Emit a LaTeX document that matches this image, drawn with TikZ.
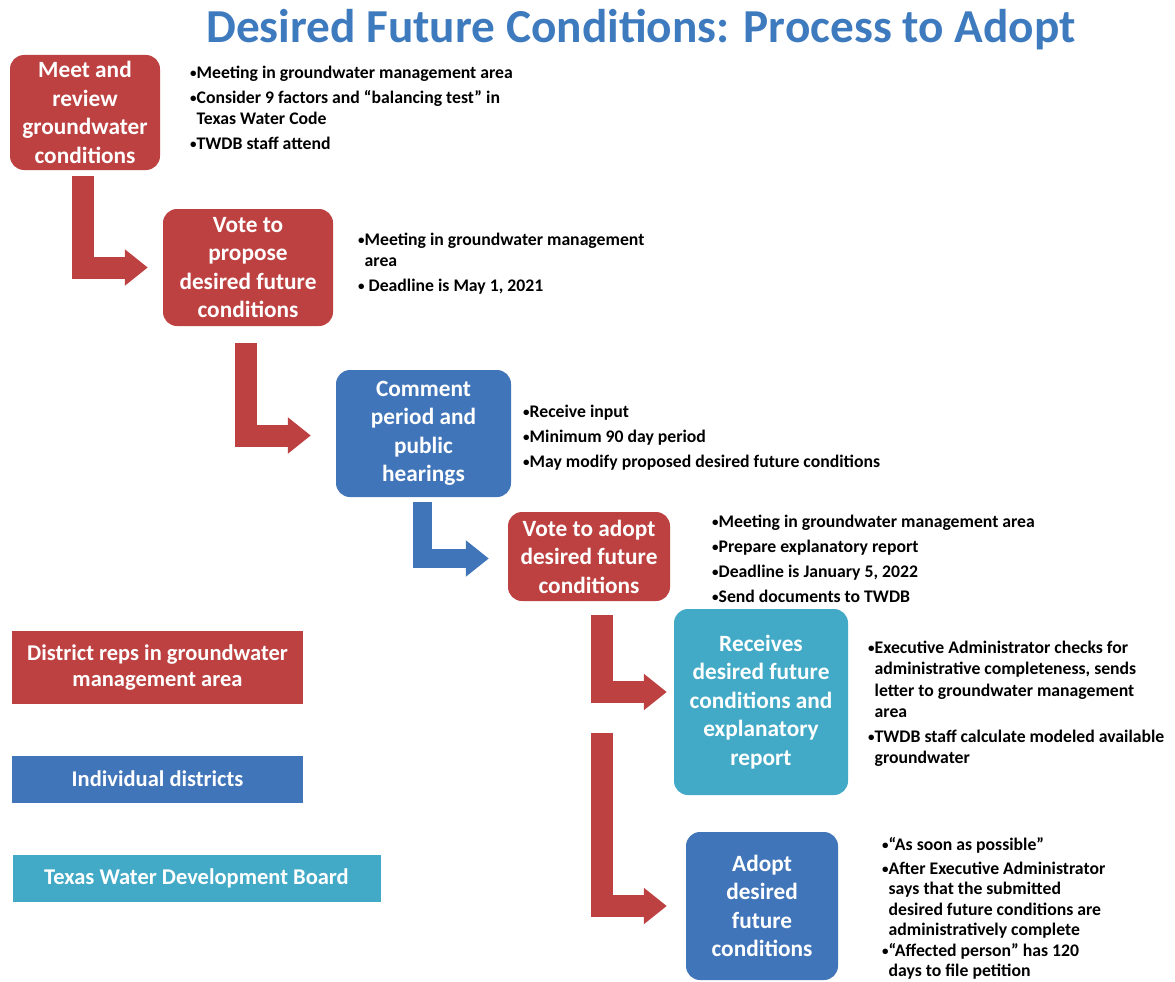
\documentclass[tikz,border=0pt]{standalone}
\usepackage{fontspec}
\setmainfont{Carlito}
\usepackage{tikz}
\usetikzlibrary{arrows.meta, positioning, calc}
\definecolor{dfcred}{RGB}{190,65,65}
\definecolor{dfcblue}{RGB}{65,117,185}
\definecolor{dfcteal}{RGB}{66,170,198}
\definecolor{titleblue}{RGB}{62,122,190}
\newcommand{\bul}{{\fontsize{13}{13}\selectfont\raisebox{0.12ex}{•}}}
\newcommand{\gap}{\hphantom{\bul}}

\tikzset{
	stepbox/.style={fill=#1, rounded corners=14pt, text=white, align=center, inner sep=0pt,
		font=\fontsize{23.3}{28.5}\selectfont\bfseries},
	keybox/.style={fill=#1, text=white, align=center, inner sep=0pt,
		font=\fontsize{22.5}{26}\selectfont\bfseries},
	notes/.style={anchor=north west, align=left, inner sep=0pt,
		font=\fontsize{17.7}{21.3}\selectfont\bfseries},
	flow/.style={draw=#1, line width=22pt, -{Triangle[width=35pt, length=23pt]}},
}

\begin{document}
\begin{tikzpicture}[x=1pt, y=-1pt]
				\useasboundingbox (0,0) rectangle (1175,982);
				\node[text=titleblue, font=\fontsize{47.3}{50}\selectfont\bfseries] (title) at (641,30) {Desired Future Conditions: Process to Adopt};
				% process steps
				\node[stepbox=dfcred, minimum width=150pt, minimum height=115pt] (meet) at (85,112.5) {Meet and\\review\\groundwater\\conditions};
				\node[stepbox=dfcred, minimum width=170pt, minimum height=117pt] (propose) at (248,267.5) {Vote to\\propose\\desired future\\conditions};
				\node[stepbox=dfcblue, minimum width=175pt, minimum height=127pt] (comment) at (423.5,433.5) {Comment\\period and\\public\\hearings};
				\node[stepbox=dfcred, minimum width=162pt, minimum height=89pt] (voteadopt) at (589,556.5) {Vote to adopt\\desired future\\conditions};
				\node[stepbox=dfcteal, minimum width=174pt, minimum height=186pt] (receives) at (761,702) {Receives\\desired future\\conditions and\\explanatory\\report};
				\node[stepbox=dfcblue, minimum width=152pt, minimum height=148pt] (adoptdfc) at (762,906) {Adopt\\desired\\future\\conditions};
				% legend
				\node[keybox=dfcred, minimum width=291pt, minimum height=73pt] (keyreps) at (157.5,667.5) {District reps in groundwater\\management area};
				\node[keybox=dfcblue, minimum width=291pt, minimum height=47pt] (keydist) at (157.5,779) {Individual districts};
				\node[keybox=dfcteal, minimum width=368pt, minimum height=47pt] (keytwdb) at (196.5,878.5) {Texas Water Development Board};
				% notes
				\node[notes] (notemeet) at (190,66) {\bul Meeting in groundwater management area\\[3.5pt]\bul Consider 9 factors and ``balancing test'' in\\\gap Texas Water Code\\[3.5pt]\bul TWDB staff attend};
				\node[notes] (notepropose) at (358,233) {\bul Meeting in groundwater management\\\gap area\\[3.5pt]\bul\ Deadline is May 1, 2021};
				\node[notes] (notecomment) at (523,405) {\bul Receive input\\[3.5pt]\bul Minimum 90 day period\\[3.5pt]\bul May modify proposed desired future conditions};
				\node[notes] (notevote) at (712,515) {\bul Meeting in groundwater management area\\[3.5pt]\bul Prepare explanatory report\\[3.5pt]\bul Deadline is January 5, 2022\\[3.5pt]\bul Send documents to TWDB};
				\node[notes] (notereceives) at (868,641) {\bul Executive Administrator checks for\\\gap administrative completeness, sends\\\gap letter to groundwater management\\\gap area\\[3.5pt]\bul TWDB staff calculate modeled available\\\gap groundwater};
				\node[notes, font=\fontsize{17.7}{20.5}\selectfont\bfseries] (noteadopt) at (882,837) {\bul``As soon as possible''\\[3.5pt]\bul After Executive Administrator\\\gap says that the submitted\\\gap desired future conditions are\\\gap administratively complete\\\bul``Affected person'' has 120\\\gap days to file petition};
				% flow arrows
				\draw[flow=dfcred] ($(meet.south)+(-2,6)$) |- ([xshift=-15pt]propose.west);
				\draw[flow=dfcred] ($(propose.south)+(-2,17)$) |- ([xshift=-25pt, yshift=-2pt]comment.west);
				\draw[flow=dfcblue, line width=19pt] ($(comment.south)+(-1.5,5)$) |- ([xshift=-19pt, yshift=-2pt]voteadopt.west);
				\draw[flow=dfcred] ($(voteadopt.south)+(13,14)$) |- ([xshift=-7pt, yshift=10pt]receives.west);
				\draw[flow=dfcred] ($(voteadopt.south)+(13,132)$) |- ([xshift=-19pt]adoptdfc.west);
			\end{tikzpicture}
\end{document}
